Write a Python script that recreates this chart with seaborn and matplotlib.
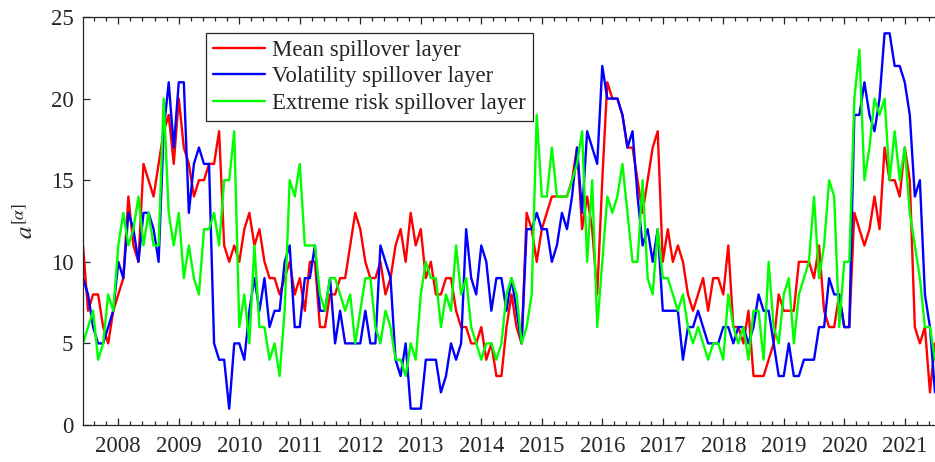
import numpy as np
import pandas as pd
import matplotlib
matplotlib.use("Agg")
import matplotlib.pyplot as plt
import seaborn as sns
from matplotlib.ticker import MultipleLocator
from matplotlib.lines import Line2D

# ---------------- data ----------------
months = pd.date_range("2007-06-01", periods=170, freq="MS")

mean_layer = [11, 7, 8, 8, 6, 5, 7, 8, 9, 14, 11, 10, 16, 15, 14, 16, 18, 19, 16, 20,
              17, 16, 14, 15, 15, 16, 16, 18, 11, 10, 11, 10, 12, 13, 11, 12, 10, 9, 9, 8, 9,
              10, 8, 9, 7, 10, 10, 6, 6, 8, 8, 9, 9, 11, 13, 12, 10, 9, 9, 10, 8,
              9, 11, 12, 10, 13, 11, 12, 9, 10, 8, 8, 9, 9, 7, 6, 6, 5, 5, 6, 4,
              5, 3, 3, 6, 8, 6, 5, 13,
              12, 10, 12, 13, 14, 14, 14, 14, 15, 17, 12, 14, 12, 8, 15, 21, 20, 20, 19, 17,
              17, 15, 13, 15, 17, 18, 10, 12, 10, 11, 10, 8, 7, 8, 9, 7, 9, 9, 8, 11,
              6, 6, 5, 7, 3, 3, 3, 4, 5, 8, 7, 7, 7, 10, 10, 10, 9, 11, 7, 6,
              6, 8, 6, 6, 13, 12, 11, 12, 14, 12, 17, 15, 15, 14, 17, 15, 6, 5, 6, 2, 5]

vol_layer = [9, 8, 6, 5, 5, 6, 7, 10, 9, 13, 12, 10, 13, 13, 12, 10, 18, 21, 17, 21,
             21, 13, 16, 17, 16, 16, 5, 4, 4, 1, 5, 5, 4, 7, 9, 7, 9, 6, 7, 7, 10,
             11, 6, 6, 9, 9, 11, 7, 7, 9, 5, 7, 5, 5, 5, 5, 7, 5, 5,
             11, 10, 9, 4, 3, 5, 1, 1, 1, 4, 4, 4, 2, 3, 5, 4, 5, 12, 9, 8, 11, 10, 7, 9, 9, 7,
             9, 7, 5, 12,
             12, 13, 12, 12, 10, 11, 13, 12, 14, 17, 13, 18, 17, 16, 22, 20, 20, 20, 19, 17,
             18, 14, 11, 12, 10, 12, 7, 7, 7, 7, 4, 6, 6, 7, 6, 5,
             5, 5, 6, 6, 5, 6, 6, 5, 6, 8, 7, 7, 5, 3, 3, 5, 3, 3, 4, 4, 4, 6, 6, 9, 8, 8, 6, 6,
             19, 19, 21, 19, 18, 20, 24, 24, 22, 22, 21, 19, 14, 15, 8, 6, 2]

ext_layer = [5, 6, 7, 4, 5, 8, 7, 11, 13, 11, 12, 14, 11, 13, 11, 11, 20, 13, 11, 13,
             9, 11, 9, 8, 12, 12, 13, 11, 15, 15, 18, 6, 8, 5, 11, 6, 6, 4, 5, 3, 7,
             15, 14, 16, 11, 11, 11, 8, 7, 9, 9, 8, 7, 8, 5, 7, 9, 9, 6, 5, 7,
             6, 4, 4, 3, 5, 4, 8, 10, 9, 9, 6, 8, 7, 11, 8, 9, 6, 5, 4, 5,
             5, 4, 5, 8, 9, 8, 5, 6, 8, 19,
             14, 14, 17, 14, 14, 14, 15, 16, 18, 10, 15, 6, 10, 14, 13, 14, 16, 13, 10, 10,
             15, 9, 8, 12, 9, 9, 8, 7, 8, 6, 5, 6, 5, 4,
             5, 5, 4, 8, 6, 5, 6, 4, 7, 7, 4, 10, 6, 5, 8, 9, 5, 8, 9, 10,
             14, 9, 11, 15, 14, 6, 10, 10, 20, 23, 15, 17, 20, 19, 20, 15, 18, 15, 17, 13,
             11, 9, 6, 6, 4]

layers = ["Mean spillover layer", "Volatility spillover layer", "Extreme risk spillover layer"]
colors = ["#ff0000", "#0000ff", "#00ff00"]
year_ticks = list(range(2008, 2022))
year_labels = [str(y) for y in year_ticks]

# decimal-year position of each monthly observation
t = months.year + (months.month - 1) / 12.0

df = pd.concat([
    pd.DataFrame({"t": t, "v": vals, "layer": name})
    for name, vals in zip(layers, [mean_layer, vol_layer, ext_layer])
], ignore_index=True)

# ---------------- style ----------------
sns.set_style("ticks")
plt.rcParams["font.family"] = ["Liberation Serif", "DejaVu Serif"]
plt.rcParams["mathtext.fontset"] = "stix"

dark = "#262626"
fig = plt.figure(figsize=(9.35, 4.62), dpi=100)
ax = fig.add_axes([83 / 935, 37 / 462, 852 / 935, 408 / 462])

sns.lineplot(data=df, x="t", y="v", hue="layer", hue_order=layers,
             palette=colors, linewidth=1.7, estimator=None, legend=False, ax=ax)

ax.set_xlim(t[0], t[-1])
ax.set_ylim(0, 25)
ax.set_yticks(range(0, 26, 5))
ax.set_xticks(year_ticks)
ax.set_xticklabels(year_labels)
ax.xaxis.set_minor_locator(MultipleLocator(0.2))
ax.set_xlabel("")
ax.set_ylabel(r"$a^{[\alpha]}$", fontsize=18, color=dark)
ax.yaxis.set_label_coords(-0.053, 0.5)

ax.tick_params(which="both", direction="in", top=True, right=False,
               color=dark, labelcolor=dark, width=0.9, labelsize=16.5)
ax.tick_params(which="major", length=5)
ax.tick_params(which="minor", length=2.6)
ax.tick_params(axis="x", pad=8)
ax.tick_params(axis="y", pad=7)

for side in ["left", "bottom", "top"]:
    ax.spines[side].set_color(dark)
    ax.spines[side].set_linewidth(0.9)
ax.spines["right"].set_visible(False)

handles = [Line2D([0], [0], color=c, lw=1.7) for c in colors]
leg = ax.legend(handles, layers, loc="upper left", bbox_to_anchor=(0.1443, 0.9608),
                borderaxespad=0, fontsize=16.4, frameon=True, fancybox=False,
                framealpha=1, edgecolor=dark, borderpad=0.3, handlelength=2.3,
                handletextpad=0.3, labelspacing=0.24)
leg.get_frame().set_linewidth(0.9)

fig.savefig("out.png", dpi=100)
